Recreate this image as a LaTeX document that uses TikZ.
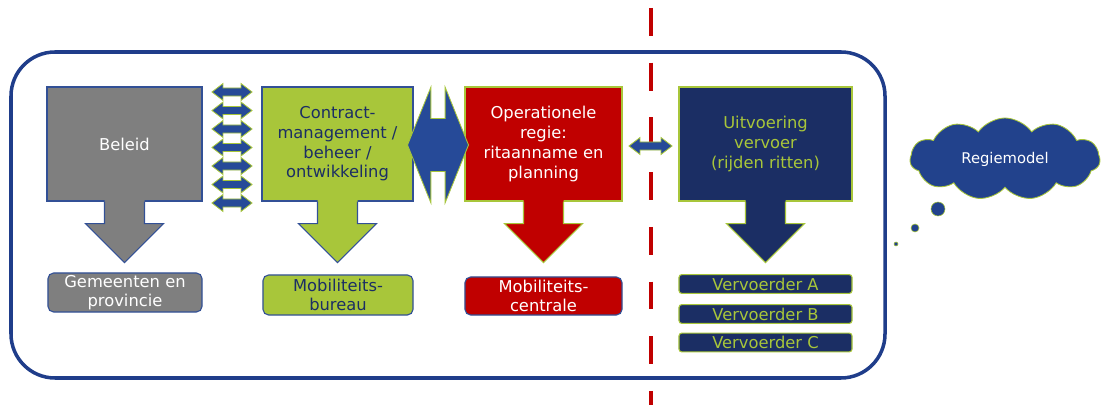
\documentclass[tikz,border=0pt]{standalone}
\usepackage{fontspec}
\setmainfont{DejaVu Sans}
\usetikzlibrary{shapes.arrows,shapes.symbols,calc}

\definecolor{beleidgray}{RGB}{127,127,127}
\definecolor{limegreen}{RGB}{168,198,58}
\definecolor{regiered}{RGB}{192,0,0}
\definecolor{navyblue}{RGB}{27,46,100}
\definecolor{arrowblue}{RGB}{38,74,152}
\definecolor{frameblue}{RGB}{31,61,138}
\definecolor{cloudblue}{RGB}{34,66,140}
\definecolor{boxblue}{RGB}{50,80,150}

\tikzset{
	txt/.style={font=\fontsize{11.6}{14}\selectfont, align=center},
	bigbox/.style={txt, rectangle, minimum height=2.85cm, inner sep=2pt, line width=0.8pt},
	lowbox/.style={txt, rectangle, rounded corners=4pt, draw=boxblue, line width=0.8pt, inner sep=0pt},
	carrier/.style={txt, rectangle, rounded corners=2pt, fill=navyblue, draw=limegreen, line width=0.8pt,
		minimum width=4.325cm, minimum height=0.47cm, inner sep=0pt, text=limegreen},
	ladder/.style={double arrow, double arrow head extend=0.11cm, double arrow tip angle=75,
		inner xsep=0pt, inner ysep=0.09cm, minimum height=1cm, fill=arrowblue, draw=limegreen, line width=0.6pt},
	bubble/.style={circle, inner sep=0pt, fill=cloudblue, draw=limegreen, line width=0.4pt}
}

\begin{document}
\begin{tikzpicture}[x=0.025cm, y=-0.025cm]
	\useasboundingbox (0,0) rectangle (1112,405);

	% kader
	\draw[frameblue, line width=2.5pt, rounded corners=1.1cm] (11,52) rectangle (885,378);

	% hoofdblokken
	\node (beleid)     at (124.5,144) [bigbox, minimum width=3.875cm, fill=beleidgray, draw=boxblue, text=white]   {Beleid};
	\node (contract)   at (337.5,144) [bigbox, minimum width=3.775cm, fill=limegreen, draw=boxblue, text=navyblue] {Contract-\\management /\\beheer /\\ontwikkeling};
	\node (regie)      at (543.5,144) [bigbox, minimum width=3.925cm, fill=regiered, draw=limegreen, text=white]   {Operationele\\regie:\\ritaanname en\\planning};
	\node (uitvoering) at (765.5,144) [bigbox, minimum width=4.325cm, fill=navyblue, draw=limegreen, text=limegreen] {Uitvoering\\vervoer\\(rijden ritten)};

	\foreach \n/\f/\d in {beleid/beleidgray/boxblue, contract/limegreen/boxblue, regie/regiered/limegreen, uitvoering/navyblue/limegreen} {
		\fill[\f, shift={(\n.south)}] (-20,-3) -- (-20,22) -- (-39,22) -- (0,61) -- (39,22) -- (20,22) -- (20,-3) -- cycle;
		\draw[\d, line width=0.8pt, shift={(\n.south)}] (-20,0) -- (-20,22) -- (-39,22) -- (0,61) -- (39,22) -- (20,22) -- (20,0);
	}

	% uitvoerders
	\node (gemeenten) at (125,292.5)  [lowbox, minimum width=3.85cm, minimum height=0.975cm, fill=beleidgray, text=white] {Gemeenten en\\provincie};
	\node (bureau)    at (338,295)    [lowbox, minimum width=3.75cm, minimum height=1cm, fill=limegreen, text=navyblue]    {Mobiliteits-\\bureau};
	\node (centrale)  at (543.5,296)  [lowbox, minimum width=3.925cm, minimum height=0.95cm, fill=regiered, text=white]    {Mobiliteits-\\centrale};
	\node (vervA) at (765.5,284)   [carrier] {Vervoerder A};
	\node (vervB) at (765.5,314)   [carrier] {Vervoerder B};
	\node (vervC) at (765.5,342.5) [carrier] {Vervoerder C};

	% scheidslijn
	\coordinate (grensboven) at (651,8);
	\coordinate (grensonder) at (651,405);
	\draw[regiered, line width=3.5pt, dash pattern=on 19.8pt off 19.1pt] (grensboven) -- (grensonder);

	% koppelingen
	\foreach \i in {0,...,6}
		\node (pijl\i) at (232,{92+18.5*\i}) [ladder] {};
	\node (koppeling) at ($(contract.east)!0.5!(regie.west)+(-1,1)$) [double arrow, fill=arrowblue, draw=limegreen, line width=0.6pt,
		minimum height=1.525cm, inner xsep=0pt, inner ysep=0.65cm, double arrow head extend=0.7875cm, double arrow tip angle=136] {};
	\node (overdracht) at ($(regie.east)!0.5!(uitvoering.west)+(0,2)$) [ladder, minimum height=1.075cm] {};

	% wolk
	\node (regiemodel) at (1005,159) [cloud, cloud puffs=11, cloud puff arc=110, aspect=2.3, fill=cloudblue, draw=limegreen,
		line width=0.6pt, minimum width=4.75cm, minimum height=2.05cm, text=white, font=\fontsize{10.5}{12}\selectfont] {Regiemodel};
	\node (bel1) at (938,209) [bubble, minimum size=0.35cm] {};
	\node (bel2) at (915,228) [bubble, minimum size=0.2cm] {};
	\node (bel3) at (896,244) [bubble, minimum size=0.1cm] {};
\end{tikzpicture}
\end{document}
